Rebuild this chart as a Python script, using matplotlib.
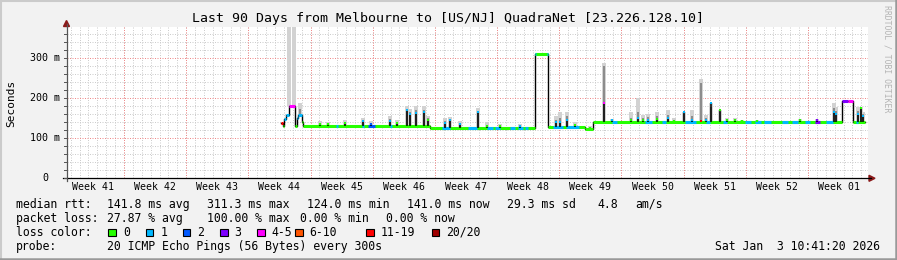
import numpy as np
import matplotlib.pyplot as plt
from matplotlib.patches import Rectangle, Polygon
from matplotlib.lines import Line2D

plt.rcParams['font.family'] = ['DejaVu Sans Mono', 'DejaVu Sans']

W, H = 897, 260

# smokeping loss classes
loss_labels = ['0', '1', '2', '3', '4-5', '6-10', '11-19', '20/20']
loss_colors = ['#26ff00', '#00b8ff', '#0059ff', '#7e00ff', '#ff00ff', '#ff5500', '#ff0000', '#a00000']

# x axis: days since graph start (90 days shown)
week_names = ['Week 41', 'Week 42', 'Week 43', 'Week 44', 'Week 45', 'Week 46',
              'Week 47', 'Week 48', 'Week 49', 'Week 50', 'Week 51', 'Week 52', 'Week 01']
week_start = [-0.58, 6.42, 13.42, 20.42, 27.42, 34.42, 41.42, 48.42, 55.42, 62.42, 69.42, 76.42, 83.42]

# median rtt, piecewise levels: start day, end day, ms, loss class
seg_start = [24.09, 24.32, 24.48, 24.65, 24.96, 25.72, 25.89, 26.06, 26.40, 26.57,
             40.83, 52.68, 54.15, 58.31, 59.16, 87.24, 87.92, 88.48]
seg_end = [24.32, 24.48, 24.65, 24.96, 25.72, 25.89, 26.06, 26.40, 26.57, 40.83,
           52.68, 54.15, 58.31, 59.16, 87.24, 87.92, 88.48, 89.82]
seg_ms = [137, 130, 147, 157, 181, 131, 150, 157, 140, 130,
          124, 310, 128, 123, 141, 193, 193, 141]
seg_loss = [6, 0, 1, 1, 4, 0, 1, 1, 0, 0,
            0, 0, 0, 0, 0, 3, 4, 0]

# short stretches on the baseline with a few lost pings
bit_start = [30.3, 33.2, 33.9, 36.4, 42.2, 45.1, 47.3, 48.2, 49.9, 50.8, 51.6,
             52.7, 54.0, 54.7, 56.2, 61.3, 65.1, 67.0, 69.6, 71.9, 73.8, 76.3,
             77.4, 78.5, 80.5, 81.6, 83.1, 84.2, 85.4, 88.8]
bit_end = [30.5, 33.4, 34.7, 36.6, 43.1, 46.2, 47.9, 48.7, 50.4, 51.3, 51.9,
           52.8, 54.15, 55.8, 57.6, 61.9, 65.9, 67.4, 70.8, 72.4, 74.3, 77.0,
           78.1, 79.3, 81.2, 82.3, 83.6, 84.8, 86.2, 89.0]
bit_loss = [1, 1, 2, 1, 1, 1, 1, 1, 1, 1, 1,
            1, 1, 1, 1, 1, 1, 1, 1, 1, 1, 1,
            1, 1, 1, 1, 1, 3, 1, 1]

# smoke spikes: day, median peak, dense smoke level, smoke max (ms), loss class
spike_day = [24.98, 25.55, 26.23, 28.48, 29.38, 31.30, 33.33, 34.23, 36.36, 37.15,
             38.28, 38.61, 39.29, 40.19, 40.64, 42.55, 43.12, 44.24, 46.27, 47.28,
             48.74, 50.99, 55.05, 55.50, 56.29, 57.19, 58.88, 60.45, 61.35, 63.49,
             64.28, 64.84, 65.41, 66.42, 67.66, 68.33, 69.46, 70.36, 71.37, 71.93,
             72.50, 73.51, 74.30, 75.20, 75.99, 77.68, 82.52, 84.43, 86.34, 86.57,
             89.04, 89.38, 89.60]
spike_med = [181, 181, 157, 136, 134, 137, 142, 135, 142, 138,
             170, 160, 163, 165, 145, 138, 145, 136, 165, 131,
             130, 129, 140, 140, 145, 132, 126, 187, 144, 145,
             150, 145, 146, 148, 150, 143, 164, 146, 143, 145,
             187, 170, 144, 144, 143, 143, 144, 146, 165, 160,
             160, 175, 155]
spike_mid = [181, 181, 172, 138, 136, 140, 145, 138, 148, 140,
             173, 166, 170, 170, 150, 142, 148, 138, 168, 133,
             132, 131, 146, 150, 155, 135, 128, 280, 146, 150,
             165, 150, 152, 155, 158, 146, 160, 155, 238, 150,
             178, 166, 146, 146, 144, 144, 145, 146, 176, 168,
             168, 176, 160]
spike_top = [378, 378, 187, 142, 140, 146, 150, 142, 156, 145,
             180, 172, 180, 180, 155, 150, 152, 143, 174, 140,
             136, 135, 155, 165, 165, 140, 131, 287, 148, 166,
             199, 158, 160, 165, 170, 150, 164, 170, 247, 158,
             187, 170, 150, 150, 145, 145, 147, 147, 187, 178,
             178, 178, 165]
spike_loss = [4, 4, 1, 0, 0, 0, 1, 2, 1, 0,
              1, 1, 1, 1, 0, 1, 1, 1, 1, 0,
              0, 1, 1, 1, 1, 0, 0, 4, 1, 0,
              1, 0, 1, 0, 1, 0, 1, 1, 6, 1,
              1, 0, 0, 0, 0, 0, 0, 3, 1, 1,
              1, 0, 1]

y_ticks = [0, 100, 200, 300]
y_tick_labels = ['0', '100 m', '200 m', '300 m']

stats_rows = [
    [(16, 'median rtt:'), (107, '141.8 ms avg'), (207, '311.3 ms max'), (307, '124.0 ms min'),
     (407, '141.0 ms now'), (507, '29.3 ms sd'), (597, '4.8'), (635, 'am/s')],
    [(16, 'packet loss:'), (107, '27.87 % avg'), (207, '100.00 % max'), (300, '0.00 % min'),
     (386, '0.00 % now')],
]
legend_box_x = [108.3, 145.7, 182.7, 220.0, 257.3, 295.0, 366.0, 431.7]


def base_at(d):
    for s, e, m in zip(seg_start, seg_end, seg_ms):
        if s <= d <= e:
            return m
    return seg_ms[-1]


def fpx(x, y):
    return x / W, 1 - y / H


fig = plt.figure(figsize=(W / 100, H / 100), dpi=100)
fig.patch.set_facecolor('#f2f2f2')

x0, x1, ytop, ybot = 67, 868, 27, 178
ax = fig.add_axes([x0 / W, (H - ybot) / H, (x1 - x0) / W, (ybot - ytop) / H])
ax.set_xlim(0, 90.17)
ax.set_ylim(0, 377.5)
ax.set_facecolor('white')
ax.set_xticks([])
ax.set_yticks([])
for s in ax.spines.values():
    s.set_visible(False)

# grid
dot = (0, (1, 1.5))
for d in np.arange(0.42, 90.2, 1.0):
    ax.axvline(d, color='#cdcdcd', lw=0.72, ls=dot, zorder=0)
for v in range(20, 378, 20):
    if v % 100:
        ax.axhline(v, color='#cdcdcd', lw=0.72, ls=dot, zorder=0)
for d in week_start[1:]:
    ax.axvline(d, color='#f08a8a', lw=0.72, ls=dot, zorder=0.5)
for v in y_ticks[1:]:
    ax.axhline(v, color='#f08a8a', lw=0.72, ls=dot, zorder=0.5)

# smoke
spike_day = np.array(spike_day)
bases = np.array([base_at(d) for d in spike_day])
ax.bar(spike_day, np.array(spike_top) - bases, bottom=bases, width=0.5,
       color='#d2d2d2', lw=0, zorder=1)
ax.bar(spike_day, np.array(spike_mid) - bases, bottom=bases, width=0.32,
       color='#8c8c8c', lw=0, zorder=1.2)

# median line (black) with loss colour overlay
xs, ys = [], []
for s, e, m in zip(seg_start, seg_end, seg_ms):
    xs += [s, e]
    ys += [m, m]
ax.plot(xs, ys, color='black', lw=1.0, zorder=2)
ax.hlines(seg_ms, seg_start, seg_end, colors=[loss_colors[i] for i in seg_loss],
          lw=2.2, zorder=3)
bit_ms = [base_at((s + e) / 2) for s, e in zip(bit_start, bit_end)]
ax.hlines(bit_ms, bit_start, bit_end, colors=[loss_colors[i] for i in bit_loss],
          lw=2.2, zorder=3.1)

ax.vlines(spike_day, bases, spike_med, color='black', lw=1.1, zorder=3.5)
for d, m, b, li in zip(spike_day, spike_med, bases, spike_loss):
    if m > b + 1:
        ax.plot([d], [m], marker='s', ms=1.9, mew=0, color=loss_colors[li], zorder=4)

# axis lines with arrows
fig.add_artist(Line2D([fpx(66.5, 0)[0]] * 2, [fpx(0, 181)[1], fpx(0, 24)[1]],
                      color='#555555', lw=0.9))
fig.add_artist(Line2D([fpx(63, 0)[0], fpx(871, 0)[0]], [fpx(0, 178.3)[1]] * 2,
                      color='black', lw=0.9))
fig.add_artist(Polygon([fpx(63.5, 26.5), fpx(69.5, 26.5), fpx(66.5, 20.5)],
                       closed=True, color='#8b1a1a', transform=fig.transFigure))
fig.add_artist(Polygon([fpx(869, 175.3), fpx(869, 181.3), fpx(875, 178.3)],
                       closed=True, color='#8b1a1a', transform=fig.transFigure))
for v in range(0, 378, 20):
    yy = ybot - v * (ybot - ytop) / 377.5
    fig.add_artist(Line2D([fpx(63.5, 0)[0], fpx(66.5, 0)[0]], [fpx(0, yy)[1]] * 2,
                          color='#555555', lw=0.7))

# tick labels
ytr = ax.get_yaxis_transform()
for v, lab in zip(y_ticks, y_tick_labels):
    xr = 60 if lab != '0' else 48
    ax.text((xr - x0) / (x1 - x0), v, lab, transform=ytr, ha='right', va='center',
            fontsize=7.2, color='black')
xtr = ax.get_xaxis_transform()
for d, lab in zip(week_start, week_names):
    ax.text(d + 3.5, -9.5 / (ybot - ytop), lab, transform=xtr, ha='center', va='center',
            fontsize=7.1, color='black')

# titles
fig.text(*fpx(448, 18.5), 'Last 90 Days from Melbourne to [US/NJ] QuadraNet [23.226.128.10]',
         ha='center', va='center', fontsize=9.5)
fig.text(*fpx(11, 103), 'Seconds', rotation=90, ha='center', va='center', fontsize=8)
fig.text(*fpx(887, 5), 'RRDTOOL / TOBI OETIKER', rotation=270, ha='center', va='top',
         fontsize=5.9, color='#b4b4b4')

# legend rows
for row, ypos in zip(stats_rows, [204.3, 218.3]):
    for xp, t in row:
        fig.text(*fpx(xp, ypos), t, ha='left', va='center', fontsize=8.3)
fig.text(*fpx(16, 232.3), 'loss color:', ha='left', va='center', fontsize=8.3)
for bx, lab, col in zip(legend_box_x, loss_labels, loss_colors):
    fig.add_artist(Rectangle(fpx(bx, 236), 7.5 / W, 7.5 / H, transform=fig.transFigure,
                             facecolor=col, edgecolor='black', lw=0.8))
    fig.text(*fpx(bx + 14.5, 232.3), lab, ha='left', va='center', fontsize=8.3)
fig.text(*fpx(16, 246.3), 'probe:', ha='left', va='center', fontsize=8.3)
fig.text(*fpx(107, 246.3), '20 ICMP Echo Pings (56 Bytes) every 300s', ha='left',
         va='center', fontsize=8.3)
fig.text(*fpx(880, 246.3), 'Sat Jan  3 10:41:20 2026', ha='right', va='center', fontsize=8.3)

# rrdtool style shaded frame
fig.add_artist(Line2D([0, 1], [1 - 1 / H] * 2, color='#cbcbcb', lw=1.5))
fig.add_artist(Line2D([1 / W] * 2, [0, 1], color='#cbcbcb', lw=1.5))
fig.add_artist(Line2D([0, 1], [1.2 / H] * 2, color='#999999', lw=1.8))
fig.add_artist(Line2D([1 - 1.2 / W] * 2, [0, 1], color='#999999', lw=1.8))

fig.savefig('out.png', dpi=100, facecolor=fig.get_facecolor())
